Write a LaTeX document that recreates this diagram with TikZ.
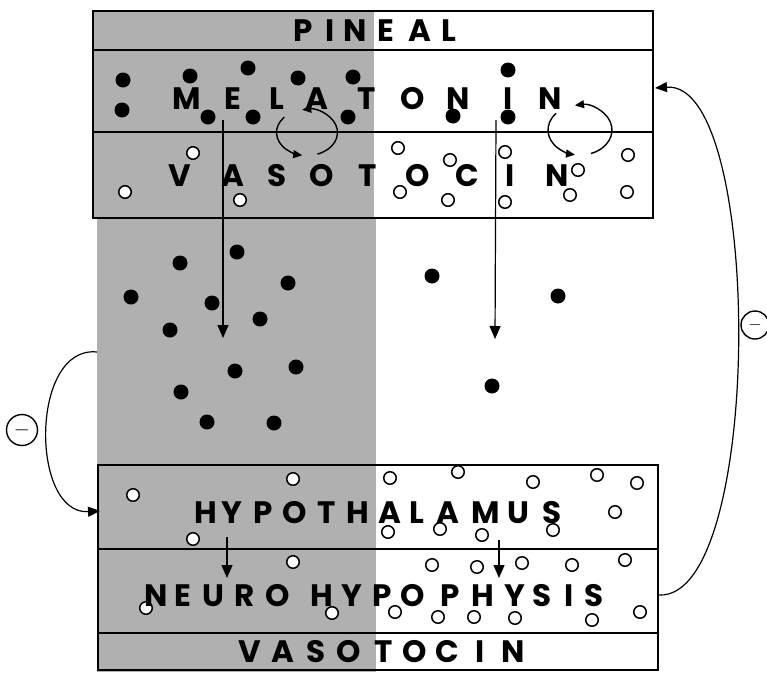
\documentclass[tikz,border=0pt]{standalone}
\usepackage{fontspec}
\setmainfont{Poppins}
\usetikzlibrary{arrows.meta}
\definecolor{halftone}{RGB}{176,176,176}
\newcommand\wordat[3]{\foreach \xx/\ch [count=\k] in {#3} \node[lt] (#1\k) at (\xx,#2) {\ch};}
\begin{document}
\begin{tikzpicture}[x=1pt,y=-1pt,
  lt/.style={font=\fontsize{31}{31}\selectfont\bfseries, inner sep=0pt, text height=21.5pt, text depth=0pt, anchor=center},
  fdot/.style={circle, fill=black, inner sep=0pt, minimum size=15pt},
  odot/.style={circle, draw=black, fill=white, line width=1.5pt, inner sep=0pt, minimum size=12.5pt},
  boxline/.style={draw=black, line width=1.8pt},
  longarr/.style={-{Triangle[length=13pt,width=11pt]}, line width=1.2pt},
  cycarr/.style={-{Triangle[length=9pt,width=8pt]}, line width=1.4pt},
  fb/.style={-{Triangle[length=12pt,width=10pt]}, line width=1.2pt},
  minusc/.style={circle, draw=black, line width=1.4pt, inner sep=0pt, font=\fontsize{22}{22}\selectfont},
]
\useasboundingbox (0,0) rectangle (767,672);
% grey shading
\fill[halftone] (93,11) rectangle (374,218);
\fill[halftone] (97,218) rectangle (376,672);
% top box
\draw[boxline] (93,11) rectangle (653,218);
\draw[boxline] (93,50) -- (653,50);
\draw[boxline] (93,132) -- (653,132);
% bottom box
\draw[boxline] (98,465) rectangle (658,670);
\draw[boxline] (98,549) -- (658,549);
\draw[boxline] (98,633) -- (658,633);

% filled dots (melatonin)
\foreach \p [count=\i] in {(123,80),(190,76),(248,68),(298,78),(353,77),(122,110),(208,117),(253,117),(348,117),(508,70),(453,116),(508,117),
  (237,252),(180,263),(288,283),(131,297),(212,303),(260,319),(170,330),(235,371),(296,367),(181,392),(207,422),(274,423),
  (432,276),(558,296),(492,386)}
  \node[fdot] (f\i) at \p {};
% open circles (vasotocin)
\foreach \p [count=\i] in {(193,153),(125,192),(240,200),(398,148),(450,160),(400,192),(448,200),(505,152),(505,202),(578,170),(570,195),(628,155),(627,192),
  (133,495),(293,479),(193,539),(293,562),(146,608),(332,613),(390,478),(458,472),(533,482),(597,475),(637,483),(615,512),(388,532),(440,529),(482,535),(553,530),
  (432,565),(477,567),(522,563),(572,565),(625,560),(395,612),(438,617),(474,617),(515,618),(592,620),(640,612)}
  \node[odot] (o\i) at \p {};

% cycle circles
\coordinate (cyL) at (307,132.5);
\coordinate (cyR) at (580,130);
\draw[cycarr] (cyL) ++(70:30.5 and 23) arc[start angle=70, end angle=-99, x radius=30.5, y radius=23];
\draw[cycarr] (cyL) ++(-138:30.5 and 23) arc[start angle=-138, end angle=-261, x radius=30.5, y radius=23];
\draw[cycarr] (cyR) ++(70:32 and 25) arc[start angle=70, end angle=-99, x radius=32, y radius=25];
\draw[cycarr] (cyR) ++(-138:32 and 25) arc[start angle=-138, end angle=-261, x radius=32, y radius=25];

% words
\wordat{pin}{31}{303/P,330/I,355/N,386/E,420/A,449/L}
\wordat{mel}{99}{187/M,233/E,277/L,317/A,367/T,413/O,458/N,508/I,550/N}
\wordat{vta}{176}{180/V,233/A,277/S,322/O,368/T,418/O,467/C,510/I,557/N}
\wordat{hyp}{513}{206/H,232/Y,263/P,295/O,327/T,358/H,390/A,417/L,448/A,486/M,518/U,552/S}
\wordat{neu}{596}{156/N,183/E,213/U,245/R,278/O,322/H,352/Y,382/P,413/O,450/P,483/H,515/Y,542/S,569/I,594/S}
\wordat{vtb}{652}{250/V,283/A,316/S,349/O,384/T,415/O,447/C,480/I,513/N}

% downward arrows
\coordinate (a1s) at (223,120); \coordinate (a1e) at (223,338);
\coordinate (a2s) at (496,120); \coordinate (a2e) at (495,339);
\coordinate (a3s) at (227,537); \coordinate (a3e) at (227,578);
\coordinate (a4s) at (499,540); \coordinate (a4e) at (499,578);
\draw[longarr] (a1s) -- (a1e);
\draw[longarr] (a2s) -- (a2e);
\draw[longarr] (a3s) -- (a3e);
\draw[longarr] (a4s) -- (a4e);

% feedback arcs
\coordinate (lfS) at (97,352);
\coordinate (lfE) at (100,511);
\draw[fb] (lfS) .. controls (30,345) and (30,515) .. (lfE);
\coordinate (rfS) at (659,595);
\coordinate (rfE) at (655,88);
\draw[fb] (rfS) .. controls (764,600) and (764,80) .. (rfE);

% minus signs
\node[minusc, minimum size=31pt] (mL) at (22,430) {$-$};
\node[minusc, minimum size=28pt, font=\fontsize{19}{19}\selectfont] (mR) at (755,325) {$-$};
\end{tikzpicture}
\end{document}
